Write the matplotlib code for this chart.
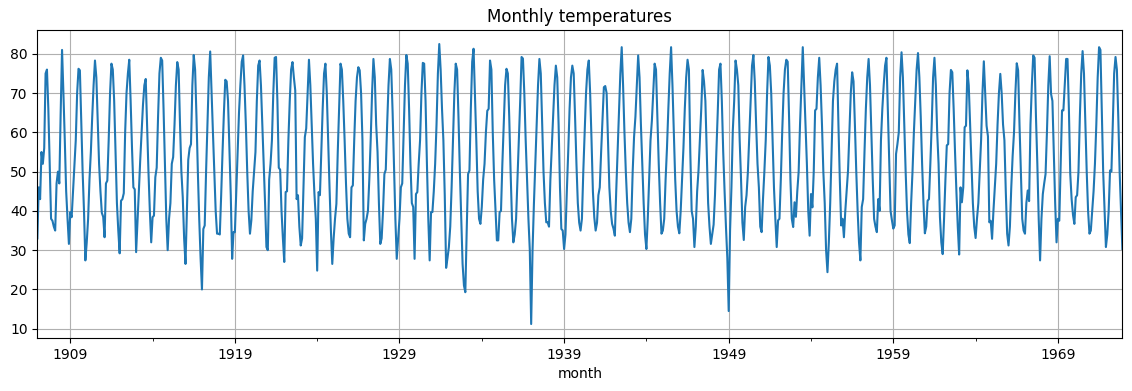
import matplotlib

matplotlib.use("Agg")
import matplotlib.pyplot as plt
import pandas as pd

# monthly mean temperatures, Jan 1907 .. Dec 1972
start_month = "1907-01"

temps_1907_1916 = [
    33, 46, 43, 55, 52, 56, 75, 76, 66, 52, 38, 37.5,
    36, 35, 47, 50, 47, 65, 81, 70, 58, 45, 38, 31.6,
    39.7, 38.4, 45, 52, 58, 70, 76.2, 75.8, 63, 50, 40, 27.4,
    32, 38, 48, 55, 64, 72, 78.3, 74, 63, 52, 45, 39.5,
    38.5, 33.3, 47, 47.7, 58, 70, 77.5, 76, 68, 55, 42, 35,
    29.2, 42.6, 43, 44.5, 60, 70, 75, 78.5, 68, 56, 46, 45.5,
    29.5, 37, 45, 53, 60, 67, 72, 73.6, 62, 50, 40, 32,
    38.4, 38.8, 48.6, 51, 64, 75, 79, 78.3, 66, 52, 38, 30,
    38, 42, 52, 53.7, 62, 72, 77.9, 76, 62, 50, 43.5, 33,
    26.5, 40, 53, 56, 57, 72, 79.7, 76, 64, 50, 38, 28,
]
temps_1917_1926 = [
    20, 35.4, 36.3, 50, 62, 74, 80.6, 70, 60, 50, 40, 34.2,
    34.2, 34, 44, 55, 65, 73.4, 73, 68, 56, 44, 27.8, 34.6,
    34.6, 45, 55, 65, 72, 78, 79.6, 72, 62, 50, 40, 34.2,
    37.6, 45, 50, 55, 68, 77, 78.3, 72, 62, 52, 42, 30.8,
    30, 48, 52, 58, 70, 79, 79.2, 68, 51, 50.5, 40, 33,
    27, 44.8, 45, 58, 68, 76, 77.9, 74, 70.7, 43, 44, 36,
    31.2, 33, 46, 58.8, 61, 70, 78.5, 72, 62, 52, 44.3, 38,
    24.8, 44.8, 44, 55, 66, 75, 77.5, 70, 58, 46, 35, 26.5,
    33, 38, 41.8, 55, 66, 77.5, 76, 68, 58, 47, 38, 34.2,
    33.3, 46, 46.5, 58, 68, 74, 76.6, 75.8, 70, 58, 32.5, 36.7,
]
temps_1927_1936 = [
    38, 40, 48, 58, 70, 78.7, 74, 62, 55, 42, 31.6, 33,
    40, 49.4, 50.5, 62, 72, 78.7, 76, 65, 52, 38, 27.8, 33,
    38, 46, 47, 60, 72, 79.7, 77.5, 66, 52, 42, 41, 27.8,
    44.3, 44.8, 52, 58, 70, 77.7, 77.5, 68, 52, 38, 27.4, 39.7,
    39.7, 45, 52, 62, 75, 82.5, 76, 66, 58, 44, 25.5, 28,
    30.8, 36, 46, 58, 70, 77.5, 76, 64, 50.3, 38, 26.5, 21,
    19.3, 35, 49.4, 50.3, 66, 78, 81.3, 70, 58, 45, 38, 36.7,
    41, 48, 52, 60, 65.5, 66, 78.3, 76, 60, 48, 40, 32.5,
    32.5, 39.7, 40, 52, 62, 72, 76.2, 75, 64, 50, 38, 32,
    34, 38, 48, 58, 68, 79.2, 78.8, 70, 58, 48, 38, 30,
]
temps_1937_1946 = [
    11.2, 30, 41.8, 52, 62, 72, 78.7, 75, 62, 50, 42, 37.1,
    37.1, 36, 48, 56, 64, 72, 77, 74, 62, 46, 35.4, 35,
    30.3, 34, 45, 55, 66, 74, 77, 75, 64, 52, 42, 37,
    35, 38, 50, 60, 70, 76, 78.3, 70, 58, 45, 38.4, 35,
    37, 44, 46, 55, 63, 71.5, 71.8, 70, 58, 46, 40, 36.7,
    35.5, 33.7, 45, 55, 65, 75, 81.7, 72, 60, 50, 42, 37,
    34.6, 38, 50, 58.8, 64, 72, 79.6, 74, 62, 52, 42, 34,
    30.3, 38, 48, 58, 63, 70, 77.5, 76, 64, 52, 42, 34.2,
    35, 38, 48, 56, 66, 75, 81.7, 72, 60, 48, 40, 36,
    34.3, 40, 48, 56, 66, 74, 78.5, 76, 55, 40, 38, 30.8,
]
temps_1947_1956 = [
    36, 45, 50.3, 58, 66, 75.9, 73, 68, 55, 42, 36, 31.6,
    34, 36.5, 44, 55, 65, 76, 77.5, 68, 55, 45, 36, 28,
    14.5, 35, 46, 60.5, 68, 78.3, 76, 72, 58, 48, 37, 32.6,
    41, 44, 50, 58.8, 68, 77, 79.7, 73, 62, 52, 46, 36,
    34.6, 43, 50, 58, 70, 79.2, 77, 70, 58, 46, 38, 30.8,
    37.6, 38, 48, 60, 70, 76, 78.5, 78, 64, 48, 38, 35.9,
    42.2, 38.5, 45, 50, 62, 72, 81.7, 72, 62, 52, 40, 33.7,
    44.3, 40.9, 50, 65.6, 66, 74, 79, 72, 62, 50, 42, 30,
    24.4, 32, 42, 55, 68, 73, 76, 77.5, 62, 48, 36.3, 38,
    33.3, 40, 45.2, 50.3, 60, 70, 75.3, 73, 62, 50, 40, 32,
]
temps_1957_1966 = [
    27.4, 41, 43, 55, 66, 74, 78.7, 72, 60, 48, 38, 36,
    34.6, 43, 40, 58, 66, 72, 77, 79, 66, 52, 40, 37.6,
    35.5, 36.3, 54.5, 57, 60, 74, 80.4, 74, 62, 50, 40, 34,
    31.8, 42, 50, 60, 68, 76, 80.2, 74, 64, 52, 42, 34.3,
    36, 42.6, 43, 52, 62, 74, 79, 72, 60, 52, 38.4, 32,
    29, 38, 48, 56.7, 57, 70, 75.9, 75.3, 66, 55, 45, 36,
    28.9, 46, 42.2, 46, 61.3, 61.7, 75.8, 72, 62, 52, 42, 36,
    33.1, 38, 42, 50, 58, 70, 78.1, 70, 61.7, 59, 37.1, 37.5,
    32.9, 40, 46, 52, 62, 70, 74.9, 70, 62, 58, 45, 34.2,
    31.2, 36, 46, 54, 60, 70, 77.6, 75.8, 62, 50, 38, 35,
]
temps_1967_1972 = [
    34.2, 42, 45.2, 42.5, 62, 72, 79.6, 79, 64, 52, 38, 27.4,
    38, 44.3, 47, 49.4, 60, 72, 79.4, 69.8, 68, 55, 42, 32,
    38, 37.5, 52, 65.6, 65.6, 72, 78.7, 78.7, 66, 49.4, 43, 39,
    36.7, 43.5, 44, 50, 64, 75, 80.7, 75, 62, 50, 40, 34.2,
    35, 40, 45, 52, 62, 74, 81.7, 81, 66, 50, 40, 30.8,
    34, 40, 50.3, 50, 62, 75, 79.2, 76, 64, 50, 40, 30.3,
]

temps = (temps_1907_1916 + temps_1917_1926 + temps_1927_1936 + temps_1937_1946
         + temps_1947_1956 + temps_1957_1966 + temps_1967_1972)
months = pd.period_range(start_month, periods=len(temps), freq="M", name="month")
series = pd.Series(temps, index=months)

fig = plt.figure(figsize=(11.32, 3.91), dpi=100)
ax = fig.add_axes([0.033, 0.1355, 0.9585, 0.7877])
series.plot(ax=ax, title="Monthly temperatures", grid=True)

fig.savefig("out.png", dpi=100)
